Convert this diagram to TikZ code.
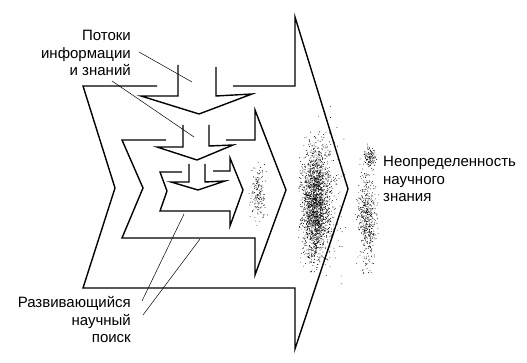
\documentclass[tikz,border=0pt]{standalone}
\usepackage{fontspec}
\setmainfont{Liberation Sans}

\begin{document}
\begin{tikzpicture}[x=1pt, y=-1pt,
  contour/.style={line width=1.4pt, line join=miter},
  leader/.style={line width=0.5pt},
  caption/.style={inner sep=0pt, font=\fontsize{15}{17.5}\selectfont}]
  % Drawing parameters
  \pgfmathsetseed{11}
  \pgfmathsetmacro{\dot}{0.45}
  \useasboundingbox (0,0) rectangle (527,363);

  % stippled clouds (uncertainty)
  \foreach \i in {1,...,170} {
    \pgfmathsetmacro{\dx}{3.5*(rand+rand+rand)}
    \pgfmathsetmacro{\dy}{13*(rand+rand+rand)}
    \fill (258+\dx, 195+\dy) circle (\dot);
  }
  \foreach \i in {1,...,2000} {
    \pgfmathsetmacro{\dx}{6.5*(rand+rand+rand)}
    \pgfmathsetmacro{\dy}{27*(rand+rand+rand)}
    \fill (315+\dx, 203+\dy) circle (\dot);
  }
  \foreach \i in {1,...,160} {
    \pgfmathsetmacro{\dx}{7*(rand+rand+rand)}
    \pgfmathsetmacro{\dy}{38*(rand+rand+rand)}
    \fill (330+\dx, 198+\dy) circle (\dot);
  }
  \foreach \i in {1,...,500} {
    \pgfmathsetmacro{\dx}{4.5*(rand+rand+rand)}
    \pgfmathsetmacro{\dy}{22*(rand+rand+rand)}
    \fill (367+\dx, 218+\dy) circle (\dot);
  }
  \foreach \i in {1,...,120} {
    \pgfmathsetmacro{\dx}{3*(rand+rand+rand)}
    \pgfmathsetmacro{\dy}{5*(rand+rand+rand)}
    \fill (370+\dx, 157+\dy) circle (\dot);
  }

  % chevrons, outer to inner
  \draw[contour] (233,86) -- (295,86) -- (295,17) -- (348,189) -- (295,349)
    -- (295,288) -- (83,288) -- (115,188) -- (83,86) -- (157,86);
  \draw[contour] (226,140) -- (255,140) -- (255,110) -- (286,190) -- (255,275)
    -- (255,238) -- (122,238) -- (143,188) -- (122,140) -- (166,140);
  \draw[contour] (213,171) -- (230,171) -- (230,158) -- (243,190) -- (230,226)
    -- (230,211) -- (160,211) -- (167,191) -- (160,172) -- (182,172);

  % incoming flows
  \draw[contour] (178,65) -- (178,96) -- (141,96) -- (199,114) -- (252,94)
    -- (216,96) -- (216,67);
  \draw[contour] (183,125) -- (183,147) -- (157,147) -- (197,160) -- (233,145)
    -- (209,146) -- (209,125);
  \draw[contour] (189,164) -- (189,182) -- (171,182) -- (198,190) -- (225,181)
    -- (205,182) -- (205,164);

  % labels
  \node[caption, align=right, anchor=east] (flows) at (131,53)
    {Потоки\\информации\\и знаний};
  \node[caption, align=right, anchor=east] (search) at (131,320)
    {Развивающийся\\научный\\поиск};
  \node[caption, align=left, anchor=west] (uncert) at (383,179)
    {Неопределенность\\научного\\знания};

  % leaders
  \coordinate (flowsA) at (139,52);
  \coordinate (flowsB) at (112,81);
  \coordinate (searchA) at (142,301);
  \coordinate (searchB) at (143,315);
  \coordinate (flowOne) at (192,82);
  \coordinate (flowTwo) at (194,137);
  \coordinate (levelThree) at (184,214);
  \coordinate (levelTwo) at (200,239);
  \draw[leader] (flowsA) -- (flowOne);
  \draw[leader] (flowsB) -- (flowTwo);
  \draw[leader] (searchA) -- (levelThree);
  \draw[leader] (searchB) -- (levelTwo);
\end{tikzpicture}
\end{document}
